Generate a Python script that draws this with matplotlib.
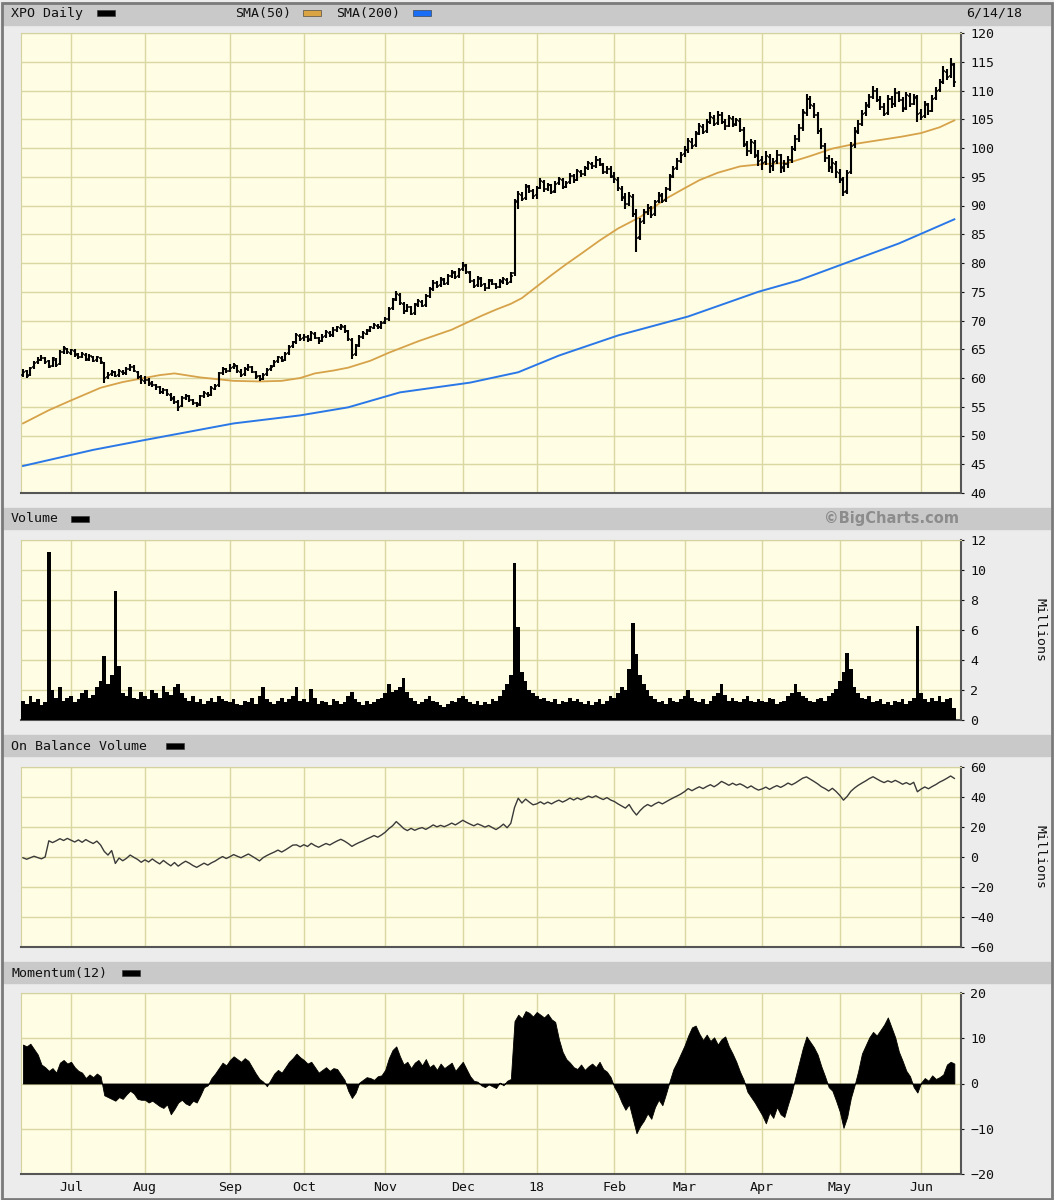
import numpy as np
import pandas as pd
import matplotlib
matplotlib.use("Agg")
import matplotlib.pyplot as plt
from matplotlib.patches import Rectangle

plt.rcParams['font.family'] = 'DejaVu Sans Mono'

# trading days 6/14/17 .. 6/14/18 (NYSE holidays removed)
holidays = ["2017-07-04", "2017-09-04", "2017-11-23", "2017-12-25", "2018-01-01",
            "2018-01-15", "2018-02-19", "2018-03-30", "2018-05-28"]
days = pd.bdate_range("2017-06-14", "2018-06-14")
days = days[~days.isin(pd.to_datetime(holidays))]

# ---- price data (one line per month) ----
closes = [
    61.0, 60.4, 61.8, 62.6, 63.2, 63.5, 62.8, 62.0, 63.4, 62.2, 64.6, 65.2, 64.5,
    64.8, 64.0, 63.6, 64.2, 63.2, 63.8, 63.0, 63.6, 62.8, 60.0, 60.6, 61.0, 60.4, 61.2, 60.8, 61.6, 62.0, 61.2, 60.2, 59.6,
    59.6, 59.0, 58.8, 58.4, 57.6, 57.9, 57.2, 56.4, 55.8, 55.0, 56.6, 56.9, 56.2, 55.6, 55.3, 56.8, 57.4, 57.0, 58.2, 58.6, 60.8, 61.6, 61.2,
    61.8, 62.2, 61.2, 60.6, 61.6, 62.0, 61.0, 60.2, 59.8, 60.6, 61.4, 62.0, 62.8, 63.6, 63.0, 64.2, 65.4, 66.2, 67.4, 66.8,
    67.2, 66.6, 67.8, 67.0, 66.4, 67.2, 68.0, 67.4, 68.4, 68.8, 69.0, 68.2, 66.8, 64.0, 65.6, 67.2, 67.8, 68.2, 68.8, 69.2, 68.8, 69.6,
    70.2, 72.0, 73.6, 74.6, 73.0, 71.6, 72.4, 71.2, 72.8, 73.4, 72.6, 74.2, 75.4, 76.6, 76.0, 77.2, 76.4, 77.8, 78.4, 77.6, 78.8,
    79.6, 78.4, 76.8, 76.0, 77.4, 76.2, 75.6, 77.0, 76.4, 75.8, 76.8, 77.2, 76.6, 77.8, 90.6, 92.0, 91.2, 93.4, 92.6, 91.6,
    93.0, 94.2, 92.8, 93.6, 92.4, 93.8, 94.6, 93.2, 94.0, 95.2, 94.4, 96.0, 95.4, 96.6, 97.4, 96.8, 98.0, 97.2, 95.8, 96.4, 95.2,
    94.6, 93.0, 91.4, 90.2, 91.6, 88.6, 84.4, 87.2, 88.8, 89.6, 88.4, 90.6, 91.8, 90.8, 92.8, 95.0, 96.4, 97.8, 98.8,
    99.6, 101.2, 100.4, 102.6, 103.8, 102.8, 104.6, 105.4, 104.2, 105.8, 104.6, 103.8, 105.2, 104.0, 104.8, 103.2, 100.6, 99.4, 101.0, 98.6, 97.8,
    97.4, 98.6, 96.8, 97.6, 98.8, 96.6, 97.2, 98.0, 99.8, 101.6, 103.4, 106.2, 108.6, 107.4, 105.8, 103.0, 100.4, 98.2, 96.6, 97.4, 95.8,
    94.6, 92.4, 95.6, 100.4, 102.8, 104.2, 106.0, 107.4, 108.8, 110.0, 108.4, 107.2, 106.0, 108.6, 107.6, 109.6, 108.4, 106.8, 109.2, 107.6, 108.8, 106.0,
    105.4, 107.6, 106.4, 108.6, 110.0, 111.4, 113.4, 112.4, 114.6, 111.4,
]
opens = [
    60.6, 61.2, 60.6, 61.9, 62.7, 63.1, 63.4, 62.9, 62.1, 63.2, 62.4, 64.5, 65.0,
    64.4, 64.7, 64.1, 63.7, 64.0, 63.3, 63.7, 63.1, 63.5, 62.6, 60.1, 60.7, 61.0, 60.5, 61.1, 60.9, 61.5, 61.9, 61.0, 60.1,
    59.5, 59.7, 59.1, 58.7, 58.4, 57.5, 57.9, 57.1, 56.5, 55.9, 55.1, 56.5, 56.8, 56.1, 55.7, 55.4, 56.9, 57.3, 57.1, 58.1, 58.7, 60.9, 61.5,
    61.3, 61.9, 62.1, 61.1, 60.7, 61.5, 61.9, 61.1, 60.3, 59.9, 60.7, 61.5, 62.1, 62.9, 63.5, 63.1, 64.3, 65.5, 66.3, 67.3,
    66.9, 67.1, 66.7, 67.7, 66.9, 66.5, 67.3, 67.9, 67.5, 68.3, 68.7, 68.9, 68.1, 66.6, 64.1, 65.7, 67.1, 67.7, 68.3, 68.7, 69.1, 68.9,
    69.7, 70.3, 72.1, 73.7, 74.5, 72.9, 71.7, 72.3, 71.3, 72.7, 73.3, 72.7, 74.3, 75.5, 76.5, 76.1, 77.1, 76.5, 77.7, 78.3, 77.7,
    78.9, 79.5, 78.3, 76.9, 76.1, 77.3, 76.3, 75.7, 76.9, 76.3, 75.9, 76.7, 77.1, 76.7, 78.2, 90.8, 91.9, 91.3, 93.3, 92.5,
    91.8, 93.1, 94.1, 92.9, 93.5, 92.5, 93.9, 94.5, 93.3, 94.1, 95.1, 94.5, 95.9, 95.5, 96.5, 97.3, 96.9, 97.9, 97.1, 95.9, 96.3,
    95.0, 94.5, 92.9, 91.3, 90.3, 91.5, 88.5, 84.6, 87.3, 88.9, 89.5, 88.5, 90.7, 91.7, 90.9, 92.9, 95.1, 96.5, 97.7,
    98.9, 99.7, 101.1, 100.5, 102.5, 103.7, 102.9, 104.5, 105.3, 104.3, 105.7, 104.5, 103.9, 105.1, 104.1, 104.7, 103.1, 100.7, 99.5, 100.9, 98.7,
    97.9, 97.5, 98.5, 96.9, 97.7, 98.7, 96.7, 97.3, 97.9, 99.9, 101.5, 103.5, 106.1, 108.5, 107.3, 105.7, 102.9, 100.3, 98.3, 96.7, 97.3,
    95.7, 94.5, 92.5, 95.8, 100.5, 102.9, 104.1, 106.1, 107.3, 108.9, 109.9, 108.3, 107.1, 106.1, 108.5, 107.7, 109.5, 108.3, 106.9, 109.1, 107.7, 108.7,
    106.1, 105.5, 107.5, 106.5, 108.7, 110.1, 111.5, 113.3, 112.5, 114.4,
]
highs = [
    61.6, 61.4, 62.0, 62.9, 63.6, 64.0, 63.6, 63.1, 63.7, 63.4, 64.9, 65.6, 65.2,
    65.1, 65.0, 64.4, 64.5, 64.3, 64.1, 63.9, 63.9, 63.7, 62.8, 61.0, 61.4, 61.3, 61.5, 61.4, 61.9, 62.4, 62.2, 61.3, 60.5,
    60.4, 60.0, 59.5, 59.0, 58.6, 58.3, 58.1, 57.4, 56.8, 56.2, 56.9, 57.3, 57.0, 56.4, 55.9, 57.1, 57.8, 57.6, 58.6, 59.0, 61.1, 62.0, 61.8,
    62.4, 62.6, 62.3, 61.5, 61.9, 62.5, 62.1, 61.3, 60.6, 60.9, 61.7, 62.3, 63.1, 63.9, 63.8, 64.5, 65.8, 66.5, 67.8, 67.6,
    67.6, 67.4, 68.1, 68.0, 67.2, 67.6, 68.4, 68.2, 68.8, 69.1, 69.4, 69.2, 68.4, 66.9, 65.9, 67.5, 68.1, 68.6, 69.1, 69.5, 69.4, 70.0,
    70.6, 72.4, 74.0, 75.1, 74.8, 73.2, 72.8, 72.6, 73.1, 73.8, 73.6, 74.6, 75.8, 77.0, 76.9, 77.6, 77.4, 78.1, 78.8, 78.6, 79.2,
    80.2, 79.9, 78.6, 77.3, 77.8, 77.5, 76.6, 77.3, 77.2, 76.6, 77.2, 77.6, 77.4, 78.4, 91.2, 92.6, 92.4, 93.8, 93.6, 92.8,
    93.4, 94.7, 94.5, 93.9, 93.8, 94.2, 95.0, 94.8, 94.3, 95.6, 95.4, 96.4, 96.2, 96.9, 97.8, 97.6, 98.6, 98.3, 97.4, 96.8, 96.8,
    95.8, 95.0, 93.4, 92.2, 92.4, 92.0, 89.4, 87.8, 89.4, 90.3, 90.0, 91.0, 92.4, 92.2, 93.2, 95.4, 96.9, 98.2, 99.3,
    100.4, 101.8, 101.7, 103.0, 104.4, 104.2, 105.0, 106.2, 105.8, 106.5, 106.2, 105.0, 105.8, 105.6, 105.3, 105.2, 103.6, 101.2, 101.6, 101.4, 99.6,
    98.6, 99.4, 98.9, 98.2, 99.6, 99.0, 97.9, 98.6, 100.4, 102.2, 104.2, 106.8, 109.4, 109.0, 107.8, 106.2, 103.4, 100.8, 98.8, 98.2, 97.8,
    96.4, 95.0, 96.2, 101.0, 103.6, 104.8, 106.6, 108.0, 109.4, 110.8, 110.4, 109.0, 107.8, 109.2, 109.0, 110.4, 110.0, 108.8, 109.8, 109.6, 109.4, 109.2,
    106.8, 108.2, 107.8, 109.2, 110.6, 112.0, 114.2, 113.8, 115.6, 114.8,
]
lows = [
    60.1, 60.0, 60.3, 61.6, 62.5, 62.9, 62.5, 61.7, 61.9, 61.9, 62.2, 64.1, 64.1,
    64.0, 63.7, 63.3, 63.4, 62.9, 63.0, 62.7, 62.8, 62.5, 59.2, 59.8, 60.3, 60.1, 60.2, 60.5, 60.6, 61.3, 61.0, 59.9, 58.9,
    59.0, 58.6, 58.4, 58.0, 57.3, 57.2, 56.9, 56.0, 55.4, 54.3, 55.0, 56.2, 55.9, 55.3, 54.9, 55.2, 56.6, 56.7, 56.9, 57.9, 58.5, 60.6, 60.8,
    61.0, 61.6, 60.9, 60.2, 60.4, 61.2, 60.8, 59.9, 59.4, 59.6, 60.4, 61.2, 61.9, 62.6, 62.7, 62.9, 64.0, 65.2, 66.0, 66.4,
    66.5, 66.3, 66.4, 66.7, 66.0, 66.2, 67.0, 67.1, 67.2, 68.0, 68.4, 67.9, 66.5, 63.3, 63.8, 65.4, 66.8, 67.5, 68.0, 68.5, 68.5, 68.6,
    69.4, 70.0, 71.8, 73.4, 72.7, 71.2, 71.4, 70.9, 71.0, 72.4, 72.3, 72.4, 74.0, 75.2, 75.6, 75.9, 76.1, 76.2, 77.4, 77.3, 77.4,
    78.6, 78.1, 76.5, 75.6, 75.8, 75.9, 75.2, 75.4, 76.1, 75.4, 75.6, 76.3, 76.2, 76.5, 77.8, 89.4, 90.7, 91.0, 92.2, 91.2,
    91.2, 92.8, 92.4, 92.5, 92.0, 92.2, 93.6, 92.9, 93.0, 93.8, 94.0, 94.2, 95.0, 95.2, 96.2, 96.4, 96.6, 96.9, 95.4, 95.5, 94.8,
    94.0, 92.6, 90.8, 89.4, 89.9, 88.0, 82.0, 84.0, 86.8, 88.4, 87.8, 88.2, 90.4, 90.4, 90.6, 92.6, 94.8, 96.2, 97.4,
    98.4, 99.2, 99.8, 100.2, 102.2, 102.4, 102.6, 104.2, 103.8, 104.0, 104.2, 103.2, 103.6, 103.6, 103.8, 102.8, 100.2, 98.6, 99.0, 98.2, 96.8,
    96.2, 97.0, 95.6, 96.0, 97.2, 95.6, 95.8, 96.6, 97.4, 99.4, 101.0, 103.0, 105.6, 106.8, 105.2, 102.4, 99.8, 97.6, 95.8, 95.6, 94.8,
    94.0, 91.6, 92.0, 95.4, 100.0, 102.4, 103.8, 105.6, 107.0, 108.6, 108.0, 106.6, 105.6, 105.8, 107.0, 107.2, 108.0, 106.2, 106.6, 107.2, 107.4, 104.6,
    104.8, 105.2, 105.8, 106.2, 108.4, 109.8, 111.2, 111.8, 112.2, 110.6,
]

# moving averages (day index, value)
sma50_day = [0, 7, 13, 21, 27, 32, 37, 41, 48, 57, 64, 70, 75, 79, 84, 88, 94, 99, 107, 116, 124, 128, 132,
             135, 137, 140, 143, 147, 151, 156, 161, 167, 174, 179, 183, 188, 194, 200, 207, 213, 219, 225, 232, 238, 243, 248, 252]
sma50_val = [52.1, 54.4, 56.1, 58.3, 59.3, 59.9, 60.5, 60.8, 60.1, 59.5, 59.4, 59.5, 60.0, 60.8, 61.3, 61.8, 63.0, 64.4, 66.4, 68.4, 70.8, 71.9, 72.9,
             73.9, 74.9, 76.4, 77.9, 79.8, 81.6, 83.9, 86.0, 88.0, 91.2, 93.0, 94.4, 95.7, 96.8, 97.2, 97.4, 98.6, 99.9, 100.7, 101.4, 102.0, 102.6, 103.6, 104.8]
sma200_day = [0, 19, 32, 57, 75, 88, 102, 121, 134, 145, 161, 180, 199, 210, 226, 237, 252]
sma200_val = [44.7, 47.5, 49.1, 52.1, 53.5, 54.9, 57.5, 59.2, 61.0, 63.9, 67.4, 70.7, 75.0, 77.0, 80.8, 83.4, 87.6]

# volume, millions
volume = [
    1.3, 1.1, 1.6, 1.2, 1.4, 1.0, 1.2, 11.2, 2.0, 1.5, 2.2, 1.3, 1.5,
    1.6, 1.2, 1.4, 1.8, 2.0, 1.5, 1.7, 2.2, 2.6, 4.3, 2.4, 3.0, 8.6, 3.6, 1.8, 1.6, 2.2, 1.5, 1.4, 1.9,
    1.6, 1.4, 2.0, 1.8, 1.5, 2.3, 1.9, 1.7, 2.2, 2.4, 1.8, 1.5, 1.3, 1.6, 1.2, 1.4, 1.1, 1.3, 1.5, 1.2, 1.6, 1.4, 1.3,
    1.2, 1.4, 1.1, 1.0, 1.3, 1.2, 1.5, 1.1, 1.6, 2.2, 1.4, 1.2, 1.1, 1.3, 1.5, 1.2, 1.4, 1.6, 2.2, 1.3,
    1.4, 1.2, 2.1, 1.5, 1.1, 1.3, 1.2, 1.0, 1.4, 1.3, 1.1, 1.2, 1.6, 1.9, 1.4, 1.2, 1.0, 1.3, 1.1, 1.2, 1.4, 1.5,
    1.8, 2.4, 1.9, 2.0, 2.2, 2.8, 1.9, 1.5, 1.3, 1.1, 1.2, 1.4, 1.6, 1.3, 1.2, 1.0, 0.9, 1.1, 1.3, 1.2, 1.5,
    1.6, 1.4, 1.2, 1.1, 1.3, 1.0, 1.2, 1.1, 1.4, 1.3, 1.6, 2.0, 2.4, 3.0, 10.5, 6.2, 3.2, 2.6, 2.0, 1.8,
    1.6, 1.4, 1.5, 1.3, 1.2, 1.4, 1.1, 1.3, 1.2, 1.5, 1.3, 1.4, 1.2, 1.1, 1.3, 1.0, 1.2, 1.4, 1.1, 1.3, 1.6,
    1.5, 1.8, 2.2, 2.0, 3.4, 6.5, 4.4, 3.0, 2.4, 2.0, 1.6, 1.4, 1.2, 1.3, 1.1, 1.5, 1.3, 1.2, 1.4,
    1.6, 2.0, 1.5, 1.3, 1.2, 1.4, 1.1, 1.3, 1.6, 1.8, 2.4, 1.7, 1.3, 1.5, 1.3, 1.2, 1.4, 1.6, 1.3, 1.2, 1.4,
    1.3, 1.2, 1.5, 1.4, 1.1, 1.2, 1.3, 1.6, 1.8, 2.4, 1.9, 1.6, 1.5, 1.3, 1.2, 1.4, 1.5, 1.3, 1.6, 1.8, 2.1,
    2.6, 3.2, 4.5, 3.4, 2.2, 1.8, 1.5, 1.4, 1.6, 1.2, 1.3, 1.4, 1.1, 1.2, 1.0, 1.3, 1.2, 1.4, 1.1, 1.3, 1.5, 6.3,
    1.8, 1.4, 1.2, 1.5, 1.3, 1.6, 1.2, 1.4, 1.5, 0.8,
]

# on balance volume, millions
obv = [
    -0.5, -1.5, -0.5, 0.5, -0.4, -1.2, 0.0, 10.8, 9.6, 10.8, 12.2, 11.0, 12.4,
    11.2, 10.0, 11.4, 9.8, 11.6, 10.2, 9.0, 10.6, 8.0, 3.7, 1.3, 4.3, -4.3, -0.7, -2.5, -0.9, 1.3, -0.2, -1.6, -3.5,
    -1.9, -3.3, -1.3, -3.1, -4.6, -2.3, -4.2, -5.9, -3.7, -6.1, -4.3, -2.8, -4.1, -5.7, -6.9, -5.5, -4.1, -5.4, -3.9, -2.7, -1.1, 0.3, -1.0,
    0.2, 1.6, 0.5, -0.5, 0.8, 2.0, 0.5, -1.0, -2.6, -0.4, 1.0, 2.2, 3.3, 4.6, 3.3, 4.7, 6.3, 7.9, 8.1, 6.8,
    8.2, 7.0, 9.1, 7.6, 6.5, 7.8, 9.0, 8.0, 9.4, 10.7, 11.8, 10.6, 9.0, 7.1, 8.5, 9.7, 10.7, 12.0, 13.1, 14.3, 13.2, 14.7,
    16.5, 18.9, 20.8, 23.6, 21.4, 19.0, 17.6, 19.1, 17.8, 18.9, 19.6, 18.4, 19.8, 21.4, 20.1, 21.1, 20.2, 21.3, 22.6, 21.4, 22.9,
    24.5, 23.1, 21.9, 20.8, 22.1, 21.1, 19.9, 21.0, 19.6, 18.3, 19.9, 21.9, 19.5, 22.5, 33.0, 39.2, 36.0, 38.6, 36.6, 34.8,
    35.4, 36.8, 35.3, 36.6, 35.4, 36.8, 37.9, 36.6, 37.8, 39.3, 38.0, 39.4, 38.2, 39.3, 40.6, 39.6, 40.8, 39.4, 38.3, 39.6, 38.0,
    37.0, 35.4, 34.0, 32.6, 35.0, 31.0, 28.0, 31.0, 33.4, 35.0, 33.8, 35.4, 36.6, 35.4, 36.8, 38.2, 39.5, 40.7, 42.0,
    43.6, 45.6, 44.2, 45.6, 46.8, 45.6, 47.0, 48.2, 46.8, 48.4, 50.4, 49.2, 47.8, 49.2, 47.9, 48.8, 47.6, 46.0, 47.4, 45.8, 44.6,
    45.4, 46.6, 45.1, 46.5, 47.6, 46.4, 47.7, 49.3, 48.1, 49.4, 51.0, 52.6, 53.4, 51.9, 50.4, 48.8, 46.9, 45.6, 44.0, 45.8, 43.7,
    41.1, 37.9, 40.4, 43.8, 46.0, 47.8, 49.3, 50.7, 52.3, 53.5, 52.1, 50.7, 49.6, 50.8, 49.8, 51.1, 49.9, 48.5, 49.6, 48.3, 49.8, 43.5,
    45.3, 46.7, 45.5, 47.0, 48.3, 49.9, 51.1, 52.5, 54.0, 52.4,
]

# momentum(12)
momentum = [
    8.6, 8.2, 8.8, 7.6, 6.4, 4.2, 3.6, 2.8, 3.4, 2.4, 4.6, 5.2, 4.4,
    4.8, 3.6, 2.8, 2.4, 1.2, 2.0, 1.4, 2.2, 1.6, -2.6, -3.0, -3.4, -3.8, -3.0, -3.4, -2.4, -1.6, -2.2, -3.4, -3.6,
    -3.6, -4.2, -3.8, -4.4, -5.0, -5.4, -4.6, -6.8, -5.6, -4.2, -3.6, -4.4, -4.8, -3.8, -4.2, -2.6, -0.8, -0.4, 1.2, 2.2, 3.4, 4.6, 4.0,
    5.2, 6.0, 5.4, 4.8, 5.6, 5.0, 3.6, 2.2, 1.0, 0.4, -0.6, 0.8, 2.2, 3.0, 2.4, 3.6, 4.8, 5.6, 6.6, 5.8,
    5.2, 4.4, 4.8, 3.6, 2.4, 3.0, 3.6, 2.8, 3.4, 3.2, 2.0, 0.8, -1.6, -3.2, -2.0, 0.2, 0.8, 1.4, 1.2, 0.8, 1.6, 1.8,
    3.0, 5.6, 7.4, 8.2, 6.0, 4.2, 4.8, 3.4, 4.6, 5.2, 4.0, 5.4, 3.6, 4.2, 3.0, 4.4, 3.4, 4.0, 4.6, 2.8, 3.8,
    4.8, 3.2, 1.6, 0.6, 0.4, -0.4, -0.8, -0.2, -0.6, -1.0, 0.2, -0.4, 0.6, 1.0, 13.8, 15.2, 14.4, 16.0, 15.6, 14.8,
    15.8, 15.2, 14.6, 15.4, 14.2, 13.6, 9.8, 7.0, 5.4, 4.6, 3.6, 3.2, 4.2, 3.0, 3.8, 4.4, 3.6, 4.8, 3.2, 2.6, 1.4,
    -0.8, -2.2, -4.2, -5.8, -4.6, -7.8, -11.0, -9.4, -8.2, -6.6, -7.8, -5.2, -3.6, -4.8, -2.2, 0.6, 3.2, 4.8, 6.6,
    8.4, 10.6, 12.4, 12.8, 11.0, 9.6, 10.8, 9.4, 10.2, 8.6, 9.8, 10.4, 8.2, 6.6, 4.8, 2.6, 0.8, -1.8, -3.0, -4.2, -5.6,
    -7.0, -8.8, -6.4, -7.6, -5.2, -6.8, -7.4, -4.6, -2.0, 1.4, 4.6, 7.8, 10.4, 9.2, 8.0, 6.4, 3.8, 1.6, -0.8, -1.6, -3.8,
    -6.2, -9.8, -7.4, -3.2, -0.4, 2.8, 6.6, 8.4, 10.2, 11.4, 10.6, 11.8, 13.0, 14.6, 12.4, 10.2, 7.0, 5.0, 2.8, 1.6, -0.8, -2.0,
    0.2, 1.2, 0.6, 1.8, 1.0, 1.4, 2.0, 4.2, 4.8, 4.4,
]

x = np.arange(len(days))
month_start = [i for i in range(1, len(days)) if days[i].month != days[i - 1].month]
month_lbl = ["18" if days[i].month == 1 else days[i].strftime("%b") for i in month_start]

W, H = 1054, 1200
fig = plt.figure(figsize=(W / 100, H / 100), dpi=100, facecolor="#ececec")


def box(x0, y0, x1, y1):
    # pixel box -> figure fraction [left, bottom, width, height]
    return [x0 / W, 1 - y1 / H, (x1 - x0) / W, (y1 - y0) / H]


def gray_bar(y0, y1):
    fig.patches.append(Rectangle((3 / W, 1 - y1 / H), 1047 / W, (y1 - y0) / H,
                                 transform=fig.transFigure, color="#c9c9c9", zorder=0))


def swatch(x0, yc, color):
    fig.patches.append(Rectangle((x0 / W, 1 - (yc + 3) / H), 18 / W, 6 / H,
                                 transform=fig.transFigure, facecolor=color,
                                 edgecolor="#333333", linewidth=0.4, zorder=2))


def label(px, py, s, **kw):
    fig.text(px / W, 1 - py / H, s, va="center", fontsize=9.5, color="#111111", **kw)


def style_panel(ax, ylo, yhi, ystep):
    ax.set_facecolor("#fffde3")
    ax.set_xlim(-0.53, 253.8)
    ax.set_ylim(ylo, yhi)
    ax.set_yticks(np.arange(ylo, yhi + 0.1, ystep))
    ax.set_xticks(month_start)
    ax.grid(True, color="#d9d8a2", linewidth=1.0, zorder=0)
    ax.set_axisbelow(True)
    ax.yaxis.tick_right()
    ax.tick_params(axis="y", length=2.5, pad=4, labelsize=9.5, colors="#111111")
    ax.tick_params(axis="x", length=0, labelbottom=False)
    for s in ["top", "left"]:
        ax.spines[s].set_color("#d4d3a0")
    for s in ["bottom", "right"]:
        ax.spines[s].set_color("#555555")
        ax.spines[s].set_linewidth(1.5)


# header + section bars
gray_bar(3, 25)
gray_bar(508, 529)
gray_bar(735, 756)
gray_bar(962, 983)

label(11, 13, "XPO Daily")
swatch(97, 13, "black")
label(235, 13, "SMA(50)")
swatch(303, 13, "#d9a441")
label(336, 13, "SMA(200)")
swatch(413, 13, "#1a6ef5")
label(1022, 13, "6/14/18", ha="right")
label(11, 519, "Volume")
swatch(71, 519, "black")
fig.text(959 / W, 1 - 519 / H, "\u00a9BigCharts.com", ha="right", va="center",
         fontsize=10.5, fontweight="bold", family="DejaVu Sans", color="#8c8c8c")
label(11, 746, "On Balance Volume")
swatch(166, 746, "black")
label(11, 973, "Momentum(12)")
swatch(122, 973, "black")
label(1040, 630, "Millions", rotation=270, ha="center")
label(1040, 857, "Millions", rotation=270, ha="center")

# price panel
ax1 = fig.add_axes(box(21, 33, 961, 493))
style_panel(ax1, 40, 120, 5)
ax1.vlines(x, lows, highs, color="black", linewidth=1.5, zorder=3)
ax1.hlines(opens, x - 0.55, x, color="black", linewidth=1.1, zorder=3)
ax1.hlines(closes, x, x + 0.55, color="black", linewidth=1.1, zorder=3)
ax1.plot(sma50_day, sma50_val, color="#d6a24a", linewidth=1.3, zorder=2)
ax1.plot(sma200_day, sma200_val, color="#2a78e8", linewidth=1.4, zorder=2)

# volume panel
ax2 = fig.add_axes(box(21, 540, 961, 720))
style_panel(ax2, 0, 12, 2)
ax2.bar(x, volume, width=1.0, color="black", linewidth=0, zorder=3)

# on balance volume panel
ax3 = fig.add_axes(box(21, 767, 961, 947))
style_panel(ax3, -60, 60, 20)
ax3.plot(x, obv, color="#3a3a3a", linewidth=1.0, zorder=3)

# momentum panel
ax4 = fig.add_axes(box(21, 993, 961, 1174))
style_panel(ax4, -20, 20, 10)
ax4.fill_between(x, 0, momentum, color="black", linewidth=0.6, zorder=3)
ax4.tick_params(axis="x", labelbottom=True, labelsize=9.5, pad=5, colors="#111111")
ax4.set_xticklabels(month_lbl)

# outer frame
fig.patches.append(Rectangle((1.5 / W, 1.5 / H), 1050 / W, 1196 / H, transform=fig.transFigure,
                             fill=False, edgecolor="#7a7a7a", linewidth=2, zorder=5))

fig.savefig("out.png", dpi=100, facecolor=fig.get_facecolor())
